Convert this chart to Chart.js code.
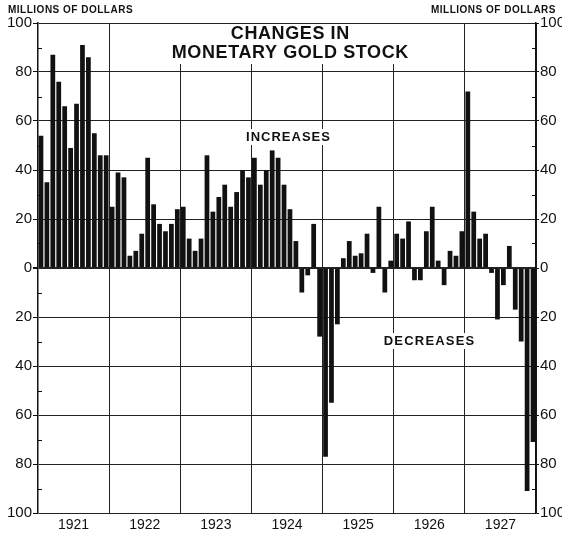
<!DOCTYPE html>
<html lang="en">
<head>
    <meta charset="UTF-8">
    <title>Changes in Monetary Gold Stock</title>
    <script src="https://cdn.jsdelivr.net/npm/chart.js"></script>
    <style>
        html, body {
            margin: 0;
            padding: 0;
            background: #fff;
        }

        .chart-box {
            width: 562px;
            height: 535px;
        }
    </style>
</head>
<body>
    <div class="chart-box">
        <canvas id="gold-chart" width="562" height="535"></canvas>
    </div>

    <script>
        // Years shown on the bottom axis
        const years = ['1921', '1922', '1923', '1924', '1925', '1926', '1927'];
        const monthNames = ['Jan', 'Feb', 'Mar', 'Apr', 'May', 'Jun', 'Jul', 'Aug', 'Sep', 'Oct', 'Nov', 'Dec'];

        // Monthly changes, millions of dollars
        const changes1921 = [54, 35, 87, 76, 66, 49, 67, 91, 86, 55, 46, 46];
        const changes1922 = [25, 39, 37, 5, 7, 14, 45, 26, 18, 15, 18, 24];
        const changes1923 = [25, 12, 7, 12, 46, 23, 29, 34, 25, 31, 40, 37];
        const changes1924 = [45, 34, 40, 48, 45, 34, 24, 11, -10, -3, 18, -28];
        const changes1925 = [-77, -55, -23, 4, 11, 5, 6, 14, -2, 25, -10, 3];
        const changes1926 = [14, 12, 19, -5, -5, 15, 25, 3, -7, 7, 5, 15];
        const changes1927 = [72, 23, 12, 14, -2, -21, -7, 9, -17, -30, -91, -71];

        // Y axis range and tick steps
        const yMin = -100;
        const yMax = 100;
        const majorStep = 20;
        const minorStep = 10;

        const monthLabels = [];
        years.forEach(y => monthNames.forEach(m => monthLabels.push(m + ' ' + y)));

        const changes = [].concat(changes1921, changes1922, changes1923, changes1924,
            changes1925, changes1926, changes1927);

        const textFont = '"Liberation Sans", Arial, sans-serif';
        const ink = '#111';

        // Draws the titles, side notes and small in-pointing ticks
        const notesPlugin = {
            id: 'notes',
            afterDatasetsDraw(chart) {
                const ctx = chart.ctx;
                const area = chart.chartArea;
                const yScale = chart.scales.y;

                // minor ticks at odd tens, pointing inward on both sides
                ctx.save();
                ctx.strokeStyle = ink;
                ctx.lineWidth = 1;
                for (let v = yMin + minorStep; v < yMax; v += majorStep) {
                    const py = Math.round(yScale.getPixelForValue(v)) + 0.5;
                    ctx.beginPath();
                    ctx.moveTo(area.left, py);
                    ctx.lineTo(area.left + 4, py);
                    ctx.moveTo(area.right, py);
                    ctx.lineTo(area.right - 4, py);
                    ctx.stroke();
                }
                ctx.restore();

                function label(lines, cx, cy, size, lineGap, spacing) {
                    ctx.save();
                    ctx.font = 'bold ' + size + 'px ' + textFont;
                    ctx.letterSpacing = spacing + 'px';
                    ctx.textAlign = 'center';
                    ctx.textBaseline = 'middle';
                    const widths = lines.map(t => ctx.measureText(t).width);
                    const w = Math.max(...widths) + 8;
                    const h = lines.length * lineGap + 2;
                    ctx.fillStyle = '#fff';
                    ctx.fillRect(cx - w / 2, cy - h / 2, w, h);
                    ctx.fillStyle = ink;
                    lines.forEach((t, i) => {
                        const ty = cy - (lines.length - 1) * lineGap / 2 + i * lineGap;
                        ctx.fillText(t, cx + spacing / 2, ty);
                    });
                    ctx.restore();
                }

                label(['CHANGES IN', 'MONETARY GOLD STOCK'], 290, 44, 18, 19, 0.6);
                label(['INCREASES'], 288, 137, 13, 14, 1);
                label(['DECREASES'], 429, 341, 13, 14, 1.2);
            },
            afterDraw(chart) {
                const ctx = chart.ctx;
                ctx.save();
                ctx.font = 'bold 10px ' + textFont;
                ctx.fillStyle = ink;
                ctx.textBaseline = 'middle';
                ctx.letterSpacing = '0.5px';
                ctx.textAlign = 'left';
                ctx.fillText('MILLIONS OF DOLLARS', 8, 10);
                ctx.textAlign = 'right';
                ctx.fillText('MILLIONS OF DOLLARS', 556, 10);
                ctx.restore();
            }
        };

        const tickFont = { family: textFont, size: 15 };

        const goldChart = new Chart(document.getElementById('gold-chart'), {
            type: 'bar',
            data: {
                labels: monthLabels,
                datasets: [{
                    label: 'Change in monetary gold stock',
                    data: changes,
                    backgroundColor: ink,
                    borderWidth: 0,
                    barPercentage: 1.0,
                    categoryPercentage: 0.8,
                    xAxisID: 'x',
                    yAxisID: 'y'
                }]
            },
            options: {
                responsive: false,
                animation: false,
                devicePixelRatio: 1,
                layout: {
                    padding: { top: 23, left: 0, right: 0, bottom: 0 }
                },
                plugins: {
                    legend: { display: false },
                    tooltip: { enabled: false }
                },
                scales: {
                    x: {
                        type: 'category',
                        display: false,
                        offset: true
                    },
                    years: {
                        type: 'category',
                        axis: 'x',
                        position: 'bottom',
                        labels: years,
                        offset: true,
                        grid: {
                            offset: true,
                            color: '#222',
                            lineWidth: 1,
                            drawTicks: false
                        },
                        border: { display: false },
                        ticks: {
                            font: { family: textFont, size: 14 },
                            color: ink,
                            padding: 4,
                            maxRotation: 0
                        },
                        afterFit: scale => { scale.height = 22; }
                    },
                    y: {
                        position: 'left',
                        min: yMin,
                        max: yMax,
                        ticks: {
                            stepSize: majorStep,
                            callback: v => Math.abs(v),
                            font: tickFont,
                            color: ink,
                            padding: 1
                        },
                        grid: {
                            color: '#222',
                            lineWidth: c => (c.tick && c.tick.value === 0 ? 2 : 1),
                            tickLength: 5,
                            tickColor: ink
                        },
                        border: { color: ink, width: 1.5 },
                        afterFit: scale => { scale.width = 38; }
                    },
                    yRight: {
                        position: 'right',
                        min: yMin,
                        max: yMax,
                        ticks: {
                            stepSize: majorStep,
                            callback: v => Math.abs(v),
                            font: tickFont,
                            color: ink,
                            padding: 1
                        },
                        grid: {
                            drawOnChartArea: false,
                            tickLength: 3,
                            tickColor: ink
                        },
                        border: { color: ink, width: 1.5 },
                        afterFit: scale => { scale.width = 26; }
                    }
                }
            },
            plugins: [notesPlugin]
        });
    </script>
</body>
</html>
